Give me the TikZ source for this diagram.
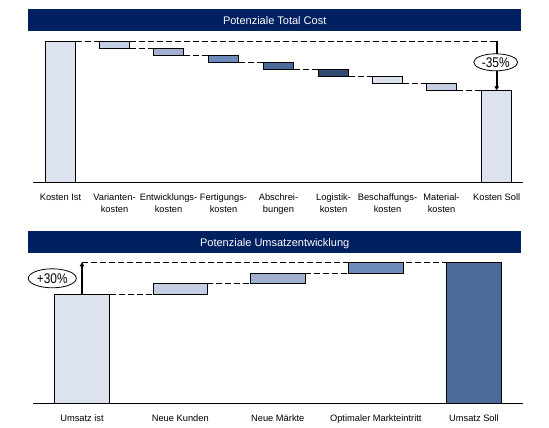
\documentclass[tikz,border=0pt]{standalone}
\usepackage{fontspec}
\setmainfont{Liberation Sans}
\usetikzlibrary{positioning,shapes.geometric,arrows.meta}
\definecolor{navy}{RGB}{0,32,96}
\definecolor{pale}{RGB}{220,227,238}
\definecolor{blueA}{RGB}{195,206,226}
\definecolor{blueB}{RGB}{160,177,208}
\definecolor{blueC}{RGB}{108,139,186}
\definecolor{blueD}{RGB}{76,107,155}
\definecolor{blueE}{RGB}{48,74,113}
\newcommand{\narrow}[1]{\scalebox{0.85}[1]{#1}}

\begin{document}
\begin{tikzpicture}[x=1pt, y=-1pt,
    bar/.style = {draw, line width=0.9pt, inner sep=0pt, outer sep=0pt, anchor=north west},
    stepbar/.style = {bar, minimum width=30.4pt, minimum height=7pt},
    upbar/.style = {bar, minimum height=11pt},
    link/.style = {line width=0.8pt, dash pattern=on 6pt off 3pt},
    title/.style = {fill=navy, text=white, anchor=north west, minimum width=493pt, minimum height=22pt,
        inner sep=0pt, text height=7.9pt, text depth=0pt, font=\fontsize{11}{13}\selectfont},
    lbl/.style = {anchor=north, inner sep=0pt, align=center, font=\fontsize{9.3}{11.3}\selectfont},
    pct/.style = {draw, ellipse, fill=white, line width=0.8pt, inner sep=0pt, font=\fontsize{14}{16}\selectfont},
    jump/.style = {line width=1.8pt, -{Triangle[length=4pt, width=4.5pt]}}]
    \useasboundingbox (0,0) rectangle (549,428);

    % Total Cost
    \node[title] (t1) at (28,9) {Potenziale Total Cost};
    \draw[line width=0.9pt] (33,182.7) -- (523,182.7);
    \node[bar, fill=pale, minimum width=30.4pt, minimum height=141.4pt] (kist) at (45.3,41.3) {};
    \node[stepbar, fill=blueA] (var) at (99.3,41.3) {};
    \node[stepbar, fill=blueB, below right=0pt and 23.6pt of var.south east] (ent) {};
    \node[stepbar, fill=blueC, below right=0pt and 24.6pt of ent.south east] (fert) {};
    \node[stepbar, fill=blueD, below right=0pt and 24.6pt of fert.south east] (abs) {};
    \node[stepbar, fill=blueE, below right=0pt and 24.6pt of abs.south east] (log) {};
    \node[stepbar, fill=pale, below right=0pt and 23.6pt of log.south east] (besch) {};
    \node[stepbar, fill=blueA, below right=0pt and 23.6pt of besch.south east] (mat) {};
    \node[bar, fill=pale, minimum width=30pt, minimum height=92.4pt, below right=0pt and 25pt of mat.south east] (ksoll) {};
    \coordinate (ktop) at (ksoll.north |- kist.north);

    \draw[link] (kist.north east) -- (ktop);
    \draw[link] (var.south east) -- (ent.north west);
    \draw[link] (ent.south east) -- (fert.north west);
    \draw[link] (fert.south east) -- (abs.north west);
    \draw[link] (abs.south east) -- (log.north west);
    \draw[link] (log.south east) -- (besch.north west);
    \draw[link] (besch.south east) -- (mat.north west);
    \draw[link] (mat.south east) -- (ksoll.north west);
    \draw[jump] (ktop) -- (ksoll.north);
    \node[pct, minimum width=44pt, minimum height=17pt] (p35) at (495.7,62.3) {\narrow{-35\%}};

    \node[lbl] (lkist) at (kist.south |- 0,194) {Kosten Ist};
    \node[lbl] (lvar) at (var.south |- lkist.north) {Varianten-\\kosten};
    \node[lbl] (lent) at (ent.south |- lkist.north) {Entwicklungs-\\kosten};
    \node[lbl] (lfert) at (fert.south |- lkist.north) {Fertigungs-\\kosten};
    \node[lbl] (labs) at (abs.south |- lkist.north) {Abschrei-\\bungen};
    \node[lbl] (llog) at (log.south |- lkist.north) {Logistik-\\kosten};
    \node[lbl] (lbesch) at (besch.south |- lkist.north) {Beschaffungs-\\kosten};
    \node[lbl] (lmat) at (mat.south |- lkist.north) {Material-\\kosten};
    \node[lbl] (lksoll) at (ksoll.south |- lkist.north) {Kosten Soll};

    % Umsatzentwicklung
    \node[title] (t2) at (28,231) {Potenziale Umsatzentwicklung};
    \draw[line width=0.9pt] (33,403.3) -- (523,403.3);
    \node[bar, fill=pale, minimum width=55.4pt, minimum height=109pt] (uist) at (54.3,294.3) {};
    \node[upbar, fill=blueA, minimum width=54pt, above right=0pt and 43.6pt of uist.north east] (kunden) {};
    \node[upbar, fill=blueB, minimum width=55pt, minimum height=10pt, above right=0pt and 43pt of kunden.north east] (maerkte) {};
    \node[upbar, fill=blueC, minimum width=55pt, above right=0pt and 43pt of maerkte.north east] (eintritt) {};
    \node[bar, fill=blueD, minimum width=54.6pt, minimum height=141pt, below right=0pt and 43.4pt of eintritt.north east] (usoll) {};
    \coordinate (utop) at (uist.north |- usoll.north);

    \draw[link] (utop) -- (usoll.north west);
    \draw[link] (uist.north east) -- (kunden.south west);
    \draw[link] (kunden.north east) -- (maerkte.south west);
    \draw[link] (maerkte.north east) -- (eintritt.south west);
    \draw[jump] (uist.north) -- (utop);
    \node[pct, minimum width=48pt, minimum height=19pt] (p30) at (52.3,278.3) {\narrow{+30\%}};

    \node[lbl] (luist) at (uist.south |- 0,415) {Umsatz ist};
    \node[lbl] (lkunden) at (kunden.south |- luist.north) {Neue Kunden};
    \node[lbl] (lmaerkte) at (maerkte.south |- luist.north) {Neue Märkte};
    \node[lbl] (leintritt) at (eintritt.south |- luist.north) {Optimaler Markteintritt};
    \node[lbl] (lusoll) at (usoll.south |- luist.north) {Umsatz Soll};
\end{tikzpicture}
\end{document}
